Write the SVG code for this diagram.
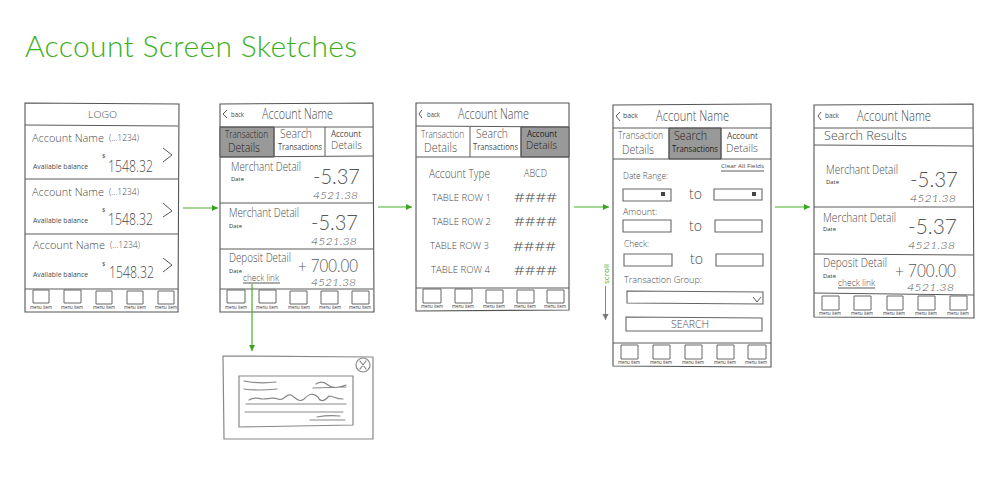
<svg xmlns="http://www.w3.org/2000/svg" width="1000" height="500" viewBox="0 0 1000 500">
<style>
text{font-family:"Open Sans","Liberation Sans",sans-serif;font-weight:400;fill:#4a4a4a}
.lt{font-weight:300}
.title{font-family:Lato,"Open Sans",sans-serif;font-size:30px;font-weight:300;fill:#3bb01e}
.l,.box,.sq{fill:none;stroke:#5a5a5a;stroke-width:1}
.scr{fill:#fff;stroke:#555;stroke-width:1.1}
.dk{fill:#999;stroke:#555}
.sq{stroke:#666}
.box{stroke:#666;stroke-width:1.1}
.sk{fill:none;stroke:#888;stroke-width:1.2;stroke-linecap:round}
.m{font-size:5px;fill:#333}
.d{font-size:5.5px;fill:#333}
.n{font-size:12.5px;font-weight:300}
.an{font-size:11.3px;font-weight:300}
.h{font-size:14px;font-weight:300}
.b{font-size:8px}
.t1{font-size:10.5px;font-weight:300}.t2{font-size:12px;font-weight:300}.t3{font-size:9.5px}
.amt,.big,.bal{font-family:Lato,"Liberation Sans",sans-serif;fill:#555}
.amt{font-size:22px;font-weight:300}
.big{font-size:18px;font-weight:300}
.bal{font-size:10px;font-style:italic;font-weight:300}
.f{font-size:9.5px;font-weight:300}
.to{font-size:14px;font-weight:300}
.c{stroke:#46b02a;stroke-width:1.2;fill:none}
.ah{fill:#3aa51e}
.ic{fill:#444}
</style>
<defs>
<marker id="ar" markerWidth="7" markerHeight="7" refX="6" refY="3" orient="auto" markerUnits="userSpaceOnUse"><path d="M0 0L6 3L0 6z" class="ah"/></marker>
<marker id="ag" markerWidth="7" markerHeight="7" refX="6" refY="3" orient="auto" markerUnits="userSpaceOnUse"><path d="M0 0L6 3L0 6z" fill="#777"/></marker>
</defs>
<text class="title" x="25" y="57" textLength="332">Account Screen Sketches</text>

<g id="screen-accounts">
<path class="scr" d="M25 103L179 104L178 312L25 312z"/>
<path class="l" d="M25 125L178 126M25 179L178 179M25 234L178 234M25 289L178 289"/>
<text class="lt" x="88" y="118" font-size="9" lengthAdjust="spacingAndGlyphs" textLength="29">LOGO</text>
<text class="an" x="32" y="142" lengthAdjust="spacingAndGlyphs" textLength="72">Account Name</text><text class="lt" x="109" y="141" font-size="8.5" lengthAdjust="spacingAndGlyphs" textLength="30">(...1234)</text>
<text x="33" y="169" font-size="7.5" lengthAdjust="spacingAndGlyphs" textLength="55">Available balance</text><text x="102" y="158" font-size="6">$</text><text class="lt" x="108" y="172" font-size="17" lengthAdjust="spacingAndGlyphs" textLength="45">1548.32</text>
<path class="l" d="M163 148L172 155L163 162"/>
<text class="an" x="32" y="196" lengthAdjust="spacingAndGlyphs" textLength="72">Account Name</text><text class="lt" x="109" y="195" font-size="8.5" lengthAdjust="spacingAndGlyphs" textLength="30">(...1234)</text>
<text x="33" y="223" font-size="7.5" lengthAdjust="spacingAndGlyphs" textLength="55">Available balance</text><text x="102" y="212" font-size="6">$</text><text class="lt" x="108" y="225" font-size="17" lengthAdjust="spacingAndGlyphs" textLength="45">1548.32</text>
<path class="l" d="M163 203L172 211L163 217"/>
<text class="an" x="33" y="249" lengthAdjust="spacingAndGlyphs" textLength="72">Account Name</text><text class="lt" x="110" y="248" font-size="8.5" lengthAdjust="spacingAndGlyphs" textLength="30">(...1234)</text>
<text x="33" y="277" font-size="7.5" lengthAdjust="spacingAndGlyphs" textLength="55">Available balance</text><text x="102" y="266" font-size="6">$</text><text class="lt" x="109" y="278" font-size="17" lengthAdjust="spacingAndGlyphs" textLength="45">1548.32</text>
<path class="l" d="M163 258L172 265L163 272"/>
<path class="sq" d="M33 290h16v13h-16zM64 290h17v13h-17zM96 291h16v13h-16zM127 291h16v13h-16zM158 291h16v13h-16z"/>
<text class="m" x="30" y="309" lengthAdjust="spacingAndGlyphs" textLength="22">menu item</text><text class="m" x="61" y="309" lengthAdjust="spacingAndGlyphs" textLength="22">menu item</text><text class="m" x="93" y="309" lengthAdjust="spacingAndGlyphs" textLength="22">menu item</text><text class="m" x="124" y="309" lengthAdjust="spacingAndGlyphs" textLength="22">menu item</text><text class="m" x="155" y="309" lengthAdjust="spacingAndGlyphs" textLength="22">menu item</text>
</g>

<g id="screen-transactions">
<path class="scr" d="M220 104L373 103L374 312L220 312z"/>
<path class="dk" d="M220 127H274V157H220z"/>
<path class="l" d="M220 127L373 127M220 157L373 156M274 127V157M325 127V156M220 203L373 203M220 249L373 249M220 289L373 289"/>
<path class="l" d="M227 110L223 114L227 118"/>
<text class="b" x="231" y="117" lengthAdjust="spacingAndGlyphs" textLength="13">back</text><text class="h" x="262" y="119" lengthAdjust="spacingAndGlyphs" textLength="71">Account Name</text>
<text class="t1" x="225" y="138" lengthAdjust="spacingAndGlyphs" textLength="43" style="fill:#222">Transaction</text><text class="t2" x="228" y="152" lengthAdjust="spacingAndGlyphs" textLength="32" style="fill:#222">Details</text>
<text class="t2" x="280" y="138" lengthAdjust="spacingAndGlyphs" textLength="32">Search</text><text class="t3" x="278" y="150" lengthAdjust="spacingAndGlyphs" textLength="44">Transactions</text>
<text class="t3" x="331" y="137" lengthAdjust="spacingAndGlyphs" textLength="30">Account</text><text class="t1" x="331" y="149" lengthAdjust="spacingAndGlyphs" textLength="31">Details</text>
<text class="n" x="231" y="171" lengthAdjust="spacingAndGlyphs" textLength="70">Merchant Detail</text><text class="d" x="231" y="181" lengthAdjust="spacingAndGlyphs" textLength="13">Date</text><text class="amt" x="313" y="184" lengthAdjust="spacingAndGlyphs" textLength="47">-5.37</text><text class="bal" x="313" y="199" lengthAdjust="spacingAndGlyphs" textLength="45">4521.38</text>
<text class="n" x="229" y="217" lengthAdjust="spacingAndGlyphs" textLength="70">Merchant Detail</text><text class="d" x="229" y="228" lengthAdjust="spacingAndGlyphs" textLength="13">Date</text><text class="amt" x="311" y="230" lengthAdjust="spacingAndGlyphs" textLength="47">-5.37</text><text class="bal" x="311" y="245" lengthAdjust="spacingAndGlyphs" textLength="46">4521.38</text>
<text class="n" x="229" y="262" lengthAdjust="spacingAndGlyphs" textLength="62">Deposit Detail</text><text class="d" x="229" y="273" lengthAdjust="spacingAndGlyphs" textLength="13">Date</text><text class="lt" x="243" y="281" font-size="9" lengthAdjust="spacingAndGlyphs" textLength="36">check link</text><path class="l" d="M243 283H280"/>
<text class="big" x="298" y="272" lengthAdjust="spacingAndGlyphs" textLength="60">+ 700.00</text><text class="bal" x="311" y="286" lengthAdjust="spacingAndGlyphs" textLength="45">4521.38</text>
<path class="sq" d="M227 290h18v13h-18zM259 290h17v13h-17zM290 291h17v13h-17zM321 291h17v13h-17zM352 291h17v13h-17z"/>
<text class="m" x="225" y="309" lengthAdjust="spacingAndGlyphs" textLength="22">menu item</text><text class="m" x="256" y="309" lengthAdjust="spacingAndGlyphs" textLength="22">menu item</text><text class="m" x="288" y="309" lengthAdjust="spacingAndGlyphs" textLength="22">menu item</text><text class="m" x="319" y="309" lengthAdjust="spacingAndGlyphs" textLength="22">menu item</text><text class="m" x="349" y="309" lengthAdjust="spacingAndGlyphs" textLength="22">menu item</text>
</g>

<g id="screen-check">
<path class="sk" d="M223 356L373 357L373 439L224 439z" stroke-linejoin="round"/>
<path class="sk" d="M239 376L353 376L353 425L239 427z"/>
<circle class="sk" cx="363" cy="365" r="7"/><path class="sk" d="M360 361L366 369M366 361L360 369"/>
<path class="sk" d="M244 381Q260 384 276 382M244 389Q258 391 277 389M316 384Q322 380 328 385T346 385M313 388L346 387M249 400C255 396 258 399 263 399S272 397 278 399C284 402 286 393 291 395C296 398 299 403 304 399C310 393 313 393 318 397C320 402 324 402 329 396C333 396 336 399 343 399M246 404H346M245 412H343M317 417Q328 415 340 416M310 420H345"/>
</g>

<g id="screen-account-details">
<path class="scr" d="M416 103L569 103L569 310L416 311z"/>
<path class="dk" d="M521 127H569V157H521z"/>
<path class="l" d="M416 126L569 127M416 157L569 157M470 127V157M521 127V157M416 288L569 288"/>
<path class="l" d="M422 110L419 114L422 118"/>
<text class="b" x="427" y="117" lengthAdjust="spacingAndGlyphs" textLength="13">back</text><text class="h" x="458" y="119" lengthAdjust="spacingAndGlyphs" textLength="71">Account Name</text>
<text class="t1" x="421" y="138" lengthAdjust="spacingAndGlyphs" textLength="43">Transaction</text><text class="t2" x="424" y="152" lengthAdjust="spacingAndGlyphs" textLength="33">Details</text>
<text class="t2" x="476" y="138" lengthAdjust="spacingAndGlyphs" textLength="32">Search</text><text class="t3" x="473" y="150" lengthAdjust="spacingAndGlyphs" textLength="45">Transactions</text>
<text class="t3" x="527" y="137" lengthAdjust="spacingAndGlyphs" textLength="30" style="fill:#222">Account</text><text class="t1" x="526" y="149" lengthAdjust="spacingAndGlyphs" textLength="31" style="fill:#222">Details</text>
<text class="n" x="429" y="178" lengthAdjust="spacingAndGlyphs" textLength="61">Account Type</text><text class="lt" x="524" y="177" font-size="10.5" lengthAdjust="spacingAndGlyphs" textLength="23">ABCD</text>
<text class="f" x="432" y="201" lengthAdjust="spacingAndGlyphs" textLength="59">TABLE ROW 1</text><text class="lt" x="514" y="202" font-size="13" lengthAdjust="spacingAndGlyphs" textLength="43">####</text>
<text class="f" x="432" y="225" lengthAdjust="spacingAndGlyphs" textLength="59">TABLE ROW 2</text><text class="lt" x="514" y="226" font-size="13" lengthAdjust="spacingAndGlyphs" textLength="43">####</text>
<text class="f" x="430" y="249" lengthAdjust="spacingAndGlyphs" textLength="59">TABLE ROW 3</text><text class="lt" x="513" y="251" font-size="13" lengthAdjust="spacingAndGlyphs" textLength="43">####</text>
<text class="f" x="431" y="273" lengthAdjust="spacingAndGlyphs" textLength="59">TABLE ROW 4</text><text class="lt" x="514" y="275" font-size="13" lengthAdjust="spacingAndGlyphs" textLength="43">####</text>
<path class="sq" d="M423 289h18v14h-18zM455 289h17v14h-17zM486 290h17v13h-17zM517 290h17v13h-17zM547 290h17v13h-17z"/>
<text class="m" x="421" y="308" lengthAdjust="spacingAndGlyphs" textLength="22">menu item</text><text class="m" x="452" y="308" lengthAdjust="spacingAndGlyphs" textLength="22">menu item</text><text class="m" x="483" y="308" lengthAdjust="spacingAndGlyphs" textLength="22">menu item</text><text class="m" x="514" y="308" lengthAdjust="spacingAndGlyphs" textLength="22">menu item</text><text class="m" x="544" y="308" lengthAdjust="spacingAndGlyphs" textLength="22">menu item</text>
</g>

<g id="screen-search">
<path class="scr" d="M613 105L771 104L771 367L613 366z"/>
<path class="dk" d="M669 128H721V159H669z"/>
<path class="l" d="M613 128L771 128M613 159L771 159M669 128V159M721 128V159M613 343L771 343"/>
<path class="l" d="M620 112L616 116L620 121"/>
<text class="b" x="623" y="118" lengthAdjust="spacingAndGlyphs" textLength="15">back</text><text class="h" x="656" y="121" lengthAdjust="spacingAndGlyphs" textLength="73">Account Name</text>
<text class="t1" x="618" y="139" lengthAdjust="spacingAndGlyphs" textLength="45">Transaction</text><text class="t2" x="622" y="154" lengthAdjust="spacingAndGlyphs" textLength="32">Details</text>
<text class="t2" x="674" y="140" lengthAdjust="spacingAndGlyphs" textLength="33" style="fill:#222">Search</text><text class="t3" x="672" y="152" lengthAdjust="spacingAndGlyphs" textLength="46" style="fill:#222">Transactions</text>
<text class="t3" x="727" y="139" lengthAdjust="spacingAndGlyphs" textLength="31">Account</text><text class="t1" x="726" y="152" lengthAdjust="spacingAndGlyphs" textLength="32">Details</text>
<text x="721" y="168" font-size="6" lengthAdjust="spacingAndGlyphs" textLength="43">Clear All Fields</text><path class="l" d="M721 171H764"/>
<text class="f" x="623" y="179" lengthAdjust="spacingAndGlyphs" textLength="45">Date Range:</text>
<path class="box" d="M623 189H671V201H623zM714 189H762V200H714z"/>
<path class="ic" d="M661 192h4v4h-4zM752 192h4v4h-4z"/>
<text class="to" x="689" y="199" lengthAdjust="spacingAndGlyphs" textLength="13">to</text>
<text class="f" x="623" y="215" lengthAdjust="spacingAndGlyphs" textLength="34">Amount:</text>
<path class="box" d="M623 220H671V232H623zM715 220H762V232H715z"/>
<text class="to" x="689" y="231" lengthAdjust="spacingAndGlyphs" textLength="13">to</text>
<text class="f" x="624" y="247" lengthAdjust="spacingAndGlyphs" textLength="25">Check:</text>
<path class="box" d="M624 254H672V266H624zM716 254H763V266H716z"/>
<text class="to" x="690" y="264" lengthAdjust="spacingAndGlyphs" textLength="13">to</text>
<text class="f" x="624" y="283" lengthAdjust="spacingAndGlyphs" textLength="78">Transaction Group:</text>
<path class="box" d="M627 291L763 292V304L627 303z"/>
<path class="l" d="M753 297L757 302L761 297"/>
<path class="box" d="M626 317L762 318V331L626 331z"/>
<text class="lt" x="671" y="328" font-size="10" lengthAdjust="spacingAndGlyphs" textLength="38">SEARCH</text>
<path class="sq" d="M621 345h17v14h-17zM653 345h17v14h-17zM685 345h17v14h-17zM717 345h17v14h-17zM748 345h18v14h-18z"/>
<text class="m" x="618" y="364" lengthAdjust="spacingAndGlyphs" textLength="22">menu item</text><text class="m" x="650" y="364" lengthAdjust="spacingAndGlyphs" textLength="22">menu item</text><text class="m" x="682" y="364" lengthAdjust="spacingAndGlyphs" textLength="22">menu item</text><text class="m" x="714" y="364" lengthAdjust="spacingAndGlyphs" textLength="22">menu item</text><text class="m" x="745" y="364" lengthAdjust="spacingAndGlyphs" textLength="22">menu item</text>
</g>

<g id="screen-results">
<path class="scr" d="M814 105L973 104L974 318L814 317z"/>
<path class="l" d="M814 128L973 128M814 145L973 146M814 207L973 207M814 254L973 255M814 293L974 295"/>
<path class="l" d="M821 112L818 116L821 120"/>
<text class="b" x="825" y="118" lengthAdjust="spacingAndGlyphs" textLength="14">back</text><text class="h" x="857" y="121" lengthAdjust="spacingAndGlyphs" textLength="74">Account Name</text>
<text class="lt" x="824" y="140" font-size="13.5" lengthAdjust="spacingAndGlyphs" textLength="83">Search Results</text>
<text class="n" x="826" y="174" lengthAdjust="spacingAndGlyphs" textLength="72">Merchant Detail</text><text class="d" x="826" y="184" lengthAdjust="spacingAndGlyphs" textLength="13">Date</text><text class="amt" x="910" y="187" lengthAdjust="spacingAndGlyphs" textLength="48">-5.37</text><text class="bal" x="910" y="202" lengthAdjust="spacingAndGlyphs" textLength="46">4521.38</text>
<text class="n" x="823" y="222" lengthAdjust="spacingAndGlyphs" textLength="73">Merchant Detail</text><text class="d" x="823" y="231" lengthAdjust="spacingAndGlyphs" textLength="13">Date</text><text class="amt" x="908" y="234" lengthAdjust="spacingAndGlyphs" textLength="49">-5.37</text><text class="bal" x="908" y="249" lengthAdjust="spacingAndGlyphs" textLength="47">4521.38</text>
<text class="n" x="823" y="267" lengthAdjust="spacingAndGlyphs" textLength="64">Deposit Detail</text><text class="d" x="823" y="278" lengthAdjust="spacingAndGlyphs" textLength="13">Date</text><text class="lt" x="838" y="286" font-size="9" lengthAdjust="spacingAndGlyphs" textLength="37">check link</text><path class="l" d="M838 288H875"/>
<text class="big" x="895" y="277" lengthAdjust="spacingAndGlyphs" textLength="61">+ 700.00</text><text class="bal" x="907" y="291" lengthAdjust="spacingAndGlyphs" textLength="47">4521.38</text>
<path class="sq" d="M822 296h17v14h-17zM854 296h17v14h-17zM887 296h16v14h-16zM918 296h17v14h-17zM950 296h17v14h-17z"/>
<text class="m" x="819" y="315" lengthAdjust="spacingAndGlyphs" textLength="22">menu item</text><text class="m" x="851" y="315" lengthAdjust="spacingAndGlyphs" textLength="22">menu item</text><text class="m" x="883" y="315" lengthAdjust="spacingAndGlyphs" textLength="22">menu item</text><text class="m" x="915" y="315" lengthAdjust="spacingAndGlyphs" textLength="22">menu item</text><text class="m" x="947" y="315" lengthAdjust="spacingAndGlyphs" textLength="22">menu item</text>
</g>

<g id="connectors">
<path class="c" marker-end="url(#ar)" d="M183 208H218"/>
<path class="c" marker-end="url(#ar)" d="M378 207H412"/>
<path class="c" marker-end="url(#ar)" d="M574 207H609"/>
<path class="c" marker-end="url(#ar)" d="M775 207H810"/>
<path class="c" marker-end="url(#ar)" d="M252 284V351"/>
<path fill="none" stroke="#888" marker-end="url(#ag)" d="M605.5 286V320"/>
<text transform="translate(609 284) rotate(-90)" font-size="7" style="fill:#46b02a" lengthAdjust="spacingAndGlyphs" textLength="20">scroll</text>
</g>
</svg>
